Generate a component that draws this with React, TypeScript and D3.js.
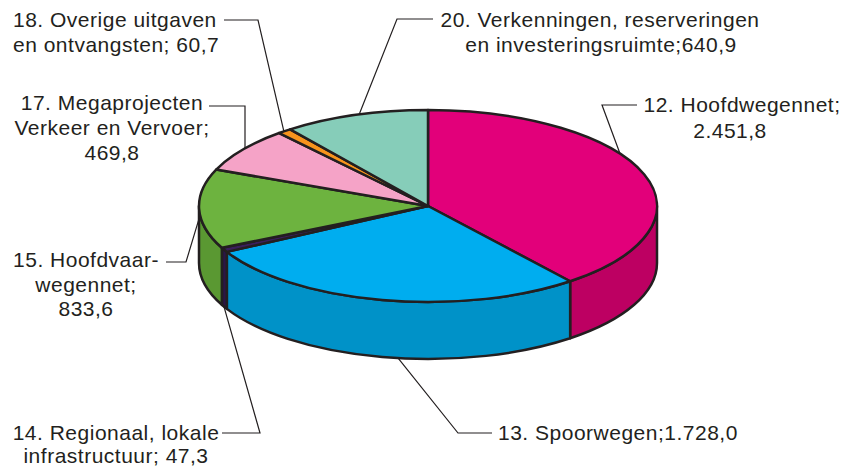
import { useEffect, useRef } from 'react'
import * as d3 from 'd3'

// Slices, clockwise from 12 o'clock
const codes = ['12', '13', '14', '15', '17', '18', '20']
const values = [2451.8, 1728.0, 47.3, 833.6, 469.8, 60.7, 640.9]
const topColors = ['#e2007a', '#00adef', '#3b1f5c', '#6db33f', '#f5a3c7', '#f7941d', '#86cdb9']
const sideColors = ['#bd0062', '#0092c8', '#2b1645', '#5a9832', '#d889ad', '#d67a10', '#6fb29f']

// Label text lines per slice
const labelLines: string[][] = [
  ['12. Hoofdwegennet;', '2.451,8'],
  ['13. Spoorwegen;1.728,0'],
  ['14. Regionaal, lokale', 'infrastructuur; 47,3'],
  ['15. Hoofdvaar-', 'wegennet;', '833,6'],
  ['17. Megaprojecten', 'Verkeer en Vervoer;', '469,8'],
  ['18. Overige uitgaven', 'en ontvangsten; 60,7'],
  ['20. Verkenningen, reserveringen', 'en investeringsruimte;640,9'],
]

const ink = '#231f20'

export default function App() {
  const ref = useRef<SVGSVGElement>(null)

  useEffect(() => {
    if (!ref.current) return
    const W = 855
    const H = 467
    const cx = 428
    const cy = 206
    const rx = 229
    const ry = 96
    const depth = 57

    const svg = d3.select(ref.current)
    svg.selectAll('*').remove()
    svg.attr('width', W).attr('height', H).attr('viewBox', `0 0 ${W} ${H}`)

    const arcs = d3.pie<number>().sort(null).startAngle(0).endAngle(2 * Math.PI)(values)

    const pt = (a: number, dy = 0): [number, number] => [cx + rx * Math.sin(a), cy - ry * Math.cos(a) + dy]

    const topPath = (a0: number, a1: number) => {
      const [x0, y0] = pt(a0)
      const [x1, y1] = pt(a1)
      const large = a1 - a0 > Math.PI ? 1 : 0
      return `M${cx},${cy}L${x0},${y0}A${rx},${ry} 0 ${large} 1 ${x1},${y1}Z`
    }

    const sidePath = (a0: number, a1: number) => {
      const s = Math.max(a0, Math.PI / 2)
      const e = Math.min(a1, (3 * Math.PI) / 2)
      if (e <= s) return null
      const [x0, y0] = pt(s)
      const [x1, y1] = pt(e)
      return `M${x0},${y0}A${rx},${ry} 0 0 1 ${x1},${y1}L${x1},${y1 + depth}A${rx},${ry} 0 0 0 ${x0},${y0 + depth}Z`
    }

    // Side walls
    arcs.forEach((d, i) => {
      const p = sidePath(d.startAngle, d.endAngle)
      if (!p) return
      svg.append('path')
        .attr('d', p)
        .attr('fill', sideColors[i])
        .attr('stroke', ink)
        .attr('stroke-width', 2.5)
        .attr('stroke-linejoin', 'round')
    })

    // Top faces
    arcs.forEach((d, i) => {
      svg.append('path')
        .attr('d', topPath(d.startAngle, d.endAngle))
        .attr('fill', topColors[i])
        .attr('stroke', ink)
        .attr('stroke-width', 2.5)
        .attr('stroke-linejoin', 'round')
    })

    // Label layout: text anchor/position, leader elbow, anchor on pie
    type Lay = {
      x: number; y: number; anchor: string; lh: number
      lineX: [number, number]; lineY: number
      t: number; dy: number; xs?: number[]
    }
    const deg = Math.PI / 180
    const layout: Lay[] = [
      { x: 742, y: 112, anchor: 'middle', lh: 26, lineX: [637, 602], lineY: 105, t: 57 * deg, dy: 0, xs: [742, 730] },
      { x: 498, y: 440, anchor: 'start', lh: 26, lineX: [492, 458], lineY: 433, t: 187.5 * deg, dy: depth },
      { x: 116, y: 440, anchor: 'middle', lh: 23, lineX: [222, 260], lineY: 433, t: 243 * deg, dy: depth },
      { x: 86, y: 267, anchor: 'middle', lh: 24.5, lineX: [166, 186], lineY: 262, t: 268 * deg, dy: 9 },
      { x: 112, y: 110, anchor: 'middle', lh: 25, lineX: [209, 245], lineY: 106, t: 307 * deg, dy: 0 },
      { x: 13, y: 27, anchor: 'start', lh: 25, lineX: [224, 258], lineY: 20, t: 321 * deg, dy: 0 },
      { x: 600, y: 27, anchor: 'middle', lh: 25, lineX: [433, 397], lineY: 19, t: 342.5 * deg, dy: 0, xs: [600, 601] },
    ]

    layout.forEach((l, i) => {
      const [ax, ay] = pt(l.t, l.dy)
      const px = l.lineX[1]
      const isVertical = i === 4
      const endX = isVertical ? px : ax
      svg.append('path')
        .attr('d', `M${l.lineX[0]},${l.lineY}L${px},${l.lineY}L${endX},${ay}`)
        .attr('fill', 'none')
        .attr('stroke', ink)
        .attr('stroke-width', 1.2)

      const txt = svg.append('text')
        .attr('font-family', '"Liberation Sans", Arial, sans-serif')
        .attr('font-size', 21)
        .attr('letter-spacing', 0.5)
        .attr('fill', ink)
        .attr('text-anchor', l.anchor)
      labelLines[i].forEach((line, j) => {
        txt.append('tspan')
          .attr('x', l.xs ? l.xs[j] : l.x)
          .attr('y', l.y + j * l.lh)
          .text(line)
      })
    })
  }, [])

  return <svg ref={ref} style={{ display: 'block', position: 'absolute', left: 0, top: 0 }} />
}
